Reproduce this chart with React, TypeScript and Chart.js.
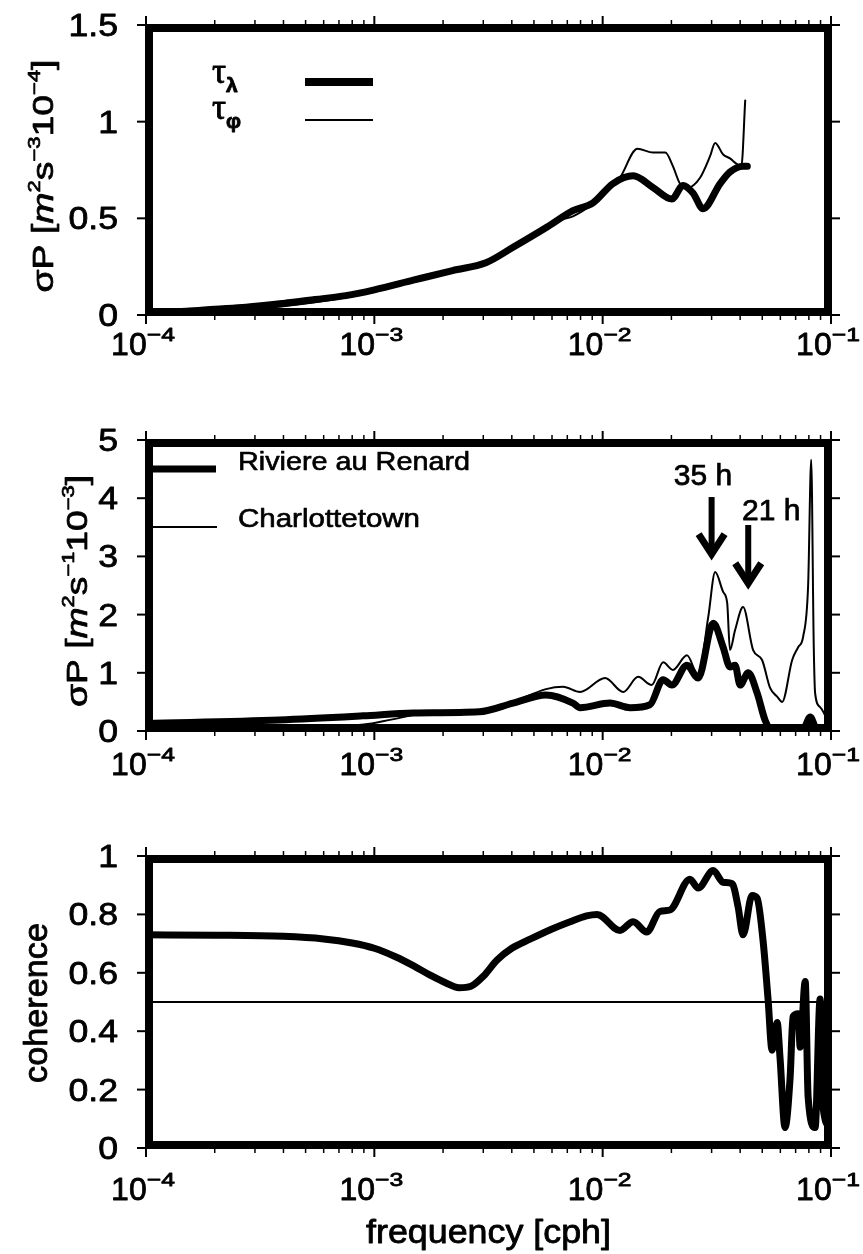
import React, { useEffect, useRef } from 'react';
import { Chart, registerables } from 'chart.js';

Chart.register(...registerables);

const PAGE_W = 863;
const PAGE_H = 1254;
const SANS = '"Liberation Sans", Arial, Helvetica, sans-serif';
const SERIF = '"Liberation Serif", "Times New Roman", serif';

// ---------- shared x axis ----------
const X_MIN = 1e-4;
const X_MAX = 1e-1;
const xDecades = [1e-4, 1e-3, 1e-2, 1e-1];
const xDecadeExponents = ['\u22124', '\u22123', '\u22122', '\u22121'];
const xMinorMultipliers = [2, 3, 4, 5, 6, 7, 8, 9];

// ---------- panel 1 : tau spectra ----------
const tauLambdaFreq = [1e-4, 1.5e-4, 2e-4, 2.74e-4, 4e-4, 5.5e-4, 7.5e-4, 1e-3, 1.48e-3, 2.2e-3, 3.08e-3, 4.05e-3, 5.71e-3, 7.41e-3, 9.07e-3, 1.11e-2, 1.36e-2, 1.66e-2, 2.01e-2, 2.25e-2, 2.49e-2, 2.75e-2, 3.27e-2, 3.61e-2, 4.12e-2, 4.3e-2];
const tauLambda = [0.015, 0.02, 0.03, 0.04, 0.06, 0.08, 0.10, 0.13, 0.18, 0.23, 0.27, 0.35, 0.455, 0.54, 0.58, 0.68, 0.72, 0.66, 0.60, 0.67, 0.63, 0.55, 0.68, 0.74, 0.77, 0.77];
const tauPhiFreq = [1e-4, 2e-4, 4e-4, 7.5e-4, 1e-3, 1.48e-3, 2.2e-3, 3.08e-3, 4.05e-3, 5.71e-3, 6.5e-3, 7.41e-3, 9.07e-3, 1.11e-2, 1.19e-2, 1.42e-2, 1.66e-2, 1.88e-2, 2.03e-2, 2.18e-2, 2.37e-2, 2.67e-2, 2.95e-2, 3.11e-2, 3.37e-2, 3.61e-2, 3.88e-2, 4.05e-2, 4.21e-2];
const tauPhi = [0.005, 0.015, 0.045, 0.09, 0.12, 0.175, 0.225, 0.27, 0.345, 0.45, 0.49, 0.51, 0.575, 0.67, 0.71, 0.86, 0.84, 0.84, 0.77, 0.68, 0.66, 0.71, 0.82, 0.89, 0.83, 0.81, 0.78, 0.77, 1.11];
const p1YTicks = [0, 0.5, 1, 1.5];
const p1YLabels = ['0', '0.5', '1', '1.5'];

// ---------- panel 2 : pressure spectra ----------
const renardFreq = [1e-4, 3.83e-4, 8.93e-4, 1.48e-3, 2.88e-3, 4.05e-3, 5.65e-3, 7.41e-3, 7.96e-3, 1.077e-2, 1.32e-2, 1.61e-2, 1.84e-2, 2.01e-2, 2.34e-2, 2.62e-2, 3.05e-2, 3.37e-2, 3.61e-2, 3.80e-2, 4.00e-2, 4.34e-2, 4.75e-2, 5.14e-2, 5.41e-2, 6.0e-2, 7.0e-2, 7.6e-2, 8.11e-2, 8.6e-2, 9.0e-2, 1e-1];
const renard = [0.13, 0.19, 0.26, 0.31, 0.33, 0.48, 0.62, 0.48, 0.40, 0.48, 0.40, 0.45, 0.88, 0.79, 1.13, 0.91, 1.85, 1.44, 1.10, 1.13, 0.79, 1.00, 0.65, 0.19, 0.05, 0.03, 0.03, 0.05, 0.24, 0.05, 0.03, 0.03];
const charlotteFreq = [1e-4, 3e-4, 6e-4, 9e-4, 1.2e-3, 1.6e-3, 2.88e-3, 4.05e-3, 5.65e-3, 6.71e-3, 7.96e-3, 1.025e-2, 1.23e-2, 1.43e-2, 1.64e-2, 1.84e-2, 2.03e-2, 2.34e-2, 2.62e-2, 2.90e-2, 3.11e-2, 3.37e-2, 3.51e-2, 3.61e-2, 3.80e-2, 4.12e-2, 4.56e-2, 4.99e-2, 5.41e-2, 5.81e-2, 6.11e-2, 6.76e-2, 7.18e-2, 7.55e-2, 7.94e-2, 8.19e-2, 8.4e-2, 8.52e-2, 8.96e-2, 9.62e-2, 9.91e-2];
const charlotte = [0.05, 0.06, 0.08, 0.11, 0.2, 0.29, 0.33, 0.50, 0.72, 0.76, 0.67, 0.91, 0.67, 0.93, 0.79, 1.18, 1.05, 1.30, 0.96, 1.96, 2.73, 2.39, 2.20, 1.39, 1.73, 2.13, 1.39, 1.22, 0.74, 0.59, 0.50, 1.22, 1.44, 1.62, 2.5, 4.66, 1.5, 0.65, 0.41, 0.19, 0.05];
const p2YTicks = [0, 1, 2, 3, 4, 5];
const p2YLabels = ['0', '1', '2', '3', '4', '5'];
const arrowLabels = ['35 h', '21 h'];
const arrowFreq = [3.0e-2, 4.34e-2];
const arrowFrom = [4.02, 3.54];
const arrowTo = [2.97, 2.47];
const arrowLabelFreq = [2.75e-2, 5.47e-2];
const arrowLabelY = [4.23, 3.63];

// ---------- panel 3 : coherence ----------
const cohFreq = [1e-4, 2e-4, 4e-4, 6e-4, 8e-4, 1e-3, 1.245e-3, 1.5e-3, 1.74e-3, 2.05e-3, 2.35e-3, 2.65e-3, 3.0e-3, 3.44e-3, 4.0e-3, 4.81e-3, 6.0e-3, 7.2e-3, 8.5e-3, 9.45e-3, 1.19e-2, 1.36e-2, 1.56e-2, 1.78e-2, 1.97e-2, 2.41e-2, 2.62e-2, 3.05e-2, 3.37e-2, 3.69e-2, 3.92e-2, 4.12e-2, 4.51e-2, 4.75e-2, 5.04e-2, 5.30e-2, 5.52e-2, 5.81e-2, 5.98e-2, 6.29e-2, 6.62e-2, 6.82e-2, 7.18e-2, 7.33e-2, 7.71e-2, 7.94e-2, 8.52e-2, 8.96e-2, 9.23e-2, 9.91e-2];
const coherence = [0.73, 0.729, 0.725, 0.716, 0.702, 0.684, 0.654, 0.622, 0.594, 0.566, 0.549, 0.554, 0.588, 0.643, 0.684, 0.715, 0.75, 0.775, 0.795, 0.80, 0.745, 0.775, 0.74, 0.81, 0.815, 0.92, 0.89, 0.95, 0.91, 0.905, 0.825, 0.73, 0.865, 0.855, 0.71, 0.51, 0.335, 0.43, 0.31, 0.07, 0.24, 0.45, 0.46, 0.345, 0.57, 0.175, 0.07, 0.51, 0.14, 0.07];
const cohRefFreq = [1e-4, 1e-1];
const cohRef = [0.5, 0.5];
const p3YTicks = [0, 0.2, 0.4, 0.6, 0.8, 1];
const p3YLabels = ['0', '0.2', '0.4', '0.6', '0.8', '1'];

// ---------- text helper ----------
type Seg = { t: string; sup?: boolean; sub?: boolean; italic?: boolean; serif?: boolean; bold?: boolean; sx?: number };

function segFont(s: Seg, size: number) {
  const sz = s.sup || s.sub ? Math.round(size * 0.6) : size;
  return `${s.italic ? 'italic ' : ''}${s.bold ? 'bold ' : ''}${sz}px ${s.serif ? SERIF : SANS}`;
}

function drawRich(ctx: CanvasRenderingContext2D, segs: Seg[], size: number, x: number, y: number,
  opts: { align?: 'left' | 'center' | 'right'; rotate?: boolean; fit?: number; scaleX?: number } = {}) {
  ctx.save();
  ctx.translate(x, y);
  if (opts.rotate) ctx.rotate(-Math.PI / 2);
  const widths = segs.map((s) => { ctx.font = segFont(s, size); return ctx.measureText(s.t).width * (s.sx || 1); });
  const total = widths.reduce((p, c) => p + c, 0);
  const sx = opts.fit ? opts.fit / total : (opts.scaleX || 1);
  ctx.scale(sx, 1);
  let cx = opts.align === 'center' ? -total / 2 : opts.align === 'right' ? -total : 0;
  ctx.textAlign = 'left';
  ctx.textBaseline = 'alphabetic';
  ctx.fillStyle = '#000';
  ctx.strokeStyle = '#000';
  ctx.lineJoin = 'round';
  segs.forEach((s, i) => {
    ctx.font = segFont(s, size);
    const dy = s.sup ? -size * 0.45 : s.sub ? size * 0.26 : 0;
    ctx.save();
    ctx.translate(cx, dy);
    if (s.sx) ctx.scale(s.sx, 1);
    ctx.fillText(s.t, 0, 0);
    ctx.lineWidth = Math.max(0.5, size * 0.025);
    ctx.strokeText(s.t, 0, 0);
    ctx.restore();
    cx += widths[i];
  });
  ctx.restore();
}

function seg(ctx: CanvasRenderingContext2D, x1: number, y1: number, x2: number, y2: number) {
  ctx.beginPath();
  ctx.moveTo(x1, y1);
  ctx.lineTo(x2, y2);
  ctx.stroke();
}

type PanelCfg = {
  key: string;
  top: number;
  bottom: number;
  yMax: number;
  yTicks: number[];
  yLabels: string[];
  xLabelOffset: number;
  datasets: any[];
  title: { segs: Seg[]; size: number; x: number; y: number; fit: number };
  extra?: (ctx: CanvasRenderingContext2D, chart: any) => void;
};

const AREA_LEFT = 146;
const AREA_RIGHT = 831;

function makeDecor(cfg: PanelCfg) {
  return {
    id: 'decor' + cfg.key,
    afterDatasetsDraw(chart: any) {
      const { ctx, chartArea: a } = chart;
      const xs = chart.scales.x;
      const ys = chart.scales.y;
      ctx.save();
      ctx.strokeStyle = '#000';
      ctx.fillStyle = '#000';
      ctx.lineCap = 'butt';
      // heavy frame
      ctx.lineWidth = 8;
      ctx.strokeRect(a.left + 3, a.top + 3, a.right - a.left - 6, a.bottom - a.top - 6);
      ctx.lineWidth = 1.5;
      ctx.strokeRect(a.left, a.top, a.right - a.left, a.bottom - a.top);
      // x ticks
      ctx.lineWidth = 2;
      xDecades.forEach((d) => {
        const px = xs.getPixelForValue(d);
        seg(ctx, px, a.bottom, px, a.bottom + 9);
        seg(ctx, px, a.top, px, a.top - 9);
      });
      ctx.lineWidth = 1.5;
      xDecades.slice(0, -1).forEach((d) => xMinorMultipliers.forEach((m) => {
        const px = xs.getPixelForValue(d * m);
        seg(ctx, px, a.bottom, px, a.bottom + 5);
        seg(ctx, px, a.top, px, a.top - 5);
      }));
      // y ticks
      ctx.lineWidth = 2;
      cfg.yTicks.forEach((v) => {
        const py = ys.getPixelForValue(v);
        seg(ctx, a.left - 9, py, a.left, py);
        seg(ctx, a.right, py, a.right + 9, py);
      });
      // y labels
      cfg.yTicks.forEach((v, i) => {
        drawRich(ctx, [{ t: cfg.yLabels[i] }], 31, a.left - 28, ys.getPixelForValue(v) + 11, { align: 'right', scaleX: 1.15 });
      });
      // x labels
      xDecades.forEach((d, i) => {
        const px = xs.getPixelForValue(d);
        drawRich(ctx, [{ t: '10' }, { t: xDecadeExponents[i], sup: true, sx: 1.3 }], 32, px - 3, a.bottom + cfg.xLabelOffset, { align: 'center' });
      });
      // y title
      const t = cfg.title;
      drawRich(ctx, t.segs, t.size, t.x, t.y, { align: 'center', rotate: true, fit: t.fit });
      if (cfg.extra) cfg.extra(ctx, chart);
      ctx.restore();
    },
  };
}

const pts = (f: number[], v: number[]) => f.map((x, i) => ({ x, y: v[i] }));
const lineDs = (label: string, data: any[], width: number) => ({
  label,
  data,
  borderColor: '#000',
  backgroundColor: '#000',
  borderWidth: width,
  pointRadius: 0,
  fill: false,
  cubicInterpolationMode: 'monotone',
  borderJoinStyle: 'round',
  borderCapStyle: 'round',
});

const panels: PanelCfg[] = [
  {
    key: 'tau',
    top: 25,
    bottom: 315,
    yMax: 1.5,
    yTicks: p1YTicks,
    yLabels: p1YLabels,
    xLabelOffset: 40,
    datasets: [
      lineDs('\u03c4\u03bb', pts(tauLambdaFreq, tauLambda), 7),
      lineDs('\u03c4\u03c6', pts(tauPhiFreq, tauPhi), 2),
    ],
    title: {
      segs: [{ t: '\u03c3P [' }, { t: 'm', italic: true }, { t: '2', sup: true }, { t: 's' }, { t: '\u22123', sup: true }, { t: '10' }, { t: '\u22124', sup: true }, { t: ']' }],
      size: 29, x: 53, y: 176, fit: 233,
    },
    extra: (ctx) => {
      drawRich(ctx, [{ t: '\u03c4', serif: true }, { t: '\u03bb', sub: true, bold: true }], 35, 212, 83);
      drawRich(ctx, [{ t: '\u03c4', serif: true }, { t: '\u03c6', sub: true, bold: true }], 35, 212, 119);
      ctx.lineWidth = 8;
      seg(ctx, 305, 82, 373, 82);
      ctx.lineWidth = 2;
      seg(ctx, 305, 120, 373, 120);
    },
  },
  {
    key: 'press',
    top: 440,
    bottom: 731,
    yMax: 5,
    yTicks: p2YTicks,
    yLabels: p2YLabels,
    xLabelOffset: 44,
    datasets: [
      lineDs('Riviere au Renard', pts(renardFreq, renard), 7),
      lineDs('Charlottetown', pts(charlotteFreq, charlotte), 2),
    ],
    title: {
      segs: [{ t: '\u03c3P [' }, { t: 'm', italic: true }, { t: '2', sup: true }, { t: 's' }, { t: '\u22121', sup: true }, { t: '10' }, { t: '\u22123', sup: true }, { t: ']' }],
      size: 29, x: 87, y: 591, fit: 232,
    },
    extra: (ctx, chart) => {
      const a = chart.chartArea;
      const xs = chart.scales.x;
      const ys = chart.scales.y;
      // legend
      ctx.lineWidth = 7;
      seg(ctx, a.left, 469, a.left + 70, 469);
      ctx.lineWidth = 2;
      seg(ctx, a.left, 527, a.left + 71, 527);
      drawRich(ctx, [{ t: 'Riviere au Renard' }], 26, 238, 470, { fit: 232 });
      drawRich(ctx, [{ t: 'Charlottetown' }], 26, 238, 527, { fit: 182 });
      // arrows
      arrowLabels.forEach((lab, i) => {
        const x = xs.getPixelForValue(arrowFreq[i]);
        const y1 = ys.getPixelForValue(arrowFrom[i]);
        const y2 = ys.getPixelForValue(arrowTo[i]);
        ctx.lineWidth = 6;
        ctx.lineCap = 'butt';
        seg(ctx, x, y1, x, y2 - 6);
        ctx.lineWidth = 7;
        ctx.lineJoin = 'miter';
        ctx.beginPath();
        ctx.moveTo(x - 13, y2 - 24);
        ctx.lineTo(x, y2 - 4);
        ctx.lineTo(x + 13, y2 - 24);
        ctx.stroke();
        drawRich(ctx, [{ t: lab }], 30, xs.getPixelForValue(arrowLabelFreq[i]), ys.getPixelForValue(arrowLabelY[i]), { align: 'center' });
      });
    },
  },
  {
    key: 'coh',
    top: 856,
    bottom: 1148,
    yMax: 1,
    yTicks: p3YTicks,
    yLabels: p3YLabels,
    xLabelOffset: 52,
    datasets: [
      lineDs('coherence', pts(cohFreq, coherence), 7),
      lineDs('0.5 level', pts(cohRefFreq, cohRef), 2),
    ],
    title: { segs: [{ t: 'coherence' }], size: 34, x: 47, y: 1003, fit: 160 },
    extra: (ctx, chart) => {
      const a = chart.chartArea;
      drawRich(ctx, [{ t: 'frequency [cph]' }], 33, (a.left + a.right) / 2, 1243, { align: 'center', fit: 245 });
    },
  },
];

function Panel({ cfg }: { cfg: PanelCfg }) {
  const ref = useRef<HTMLCanvasElement | null>(null);
  useEffect(() => {
    if (!ref.current) return;
    const chart = new Chart(ref.current, {
      type: 'line',
      data: { datasets: cfg.datasets },
      options: {
        responsive: false,
        maintainAspectRatio: false,
        devicePixelRatio: 1,
        animation: false,
        layout: { padding: { left: AREA_LEFT, right: PAGE_W - AREA_RIGHT, top: cfg.top, bottom: PAGE_H - cfg.bottom } },
        plugins: { legend: { display: false }, tooltip: { enabled: false } },
        scales: {
          x: { type: 'logarithmic', min: X_MIN, max: X_MAX, display: false },
          y: { type: 'linear', min: 0, max: cfg.yMax, display: false },
        },
      } as any,
      plugins: [makeDecor(cfg)],
    });
    return () => chart.destroy();
  }, [cfg]);
  return (
    <canvas
      ref={ref}
      width={PAGE_W}
      height={PAGE_H}
      style={{ position: 'absolute', left: 0, top: 0, width: PAGE_W, height: PAGE_H }}
    />
  );
}

export default function App() {
  return (
    <div style={{ position: 'absolute', left: 0, top: 0, width: PAGE_W, height: PAGE_H, background: '#fff', overflow: 'hidden' }}>
      {panels.map((p) => <Panel key={p.key} cfg={p} />)}
    </div>
  );
}
